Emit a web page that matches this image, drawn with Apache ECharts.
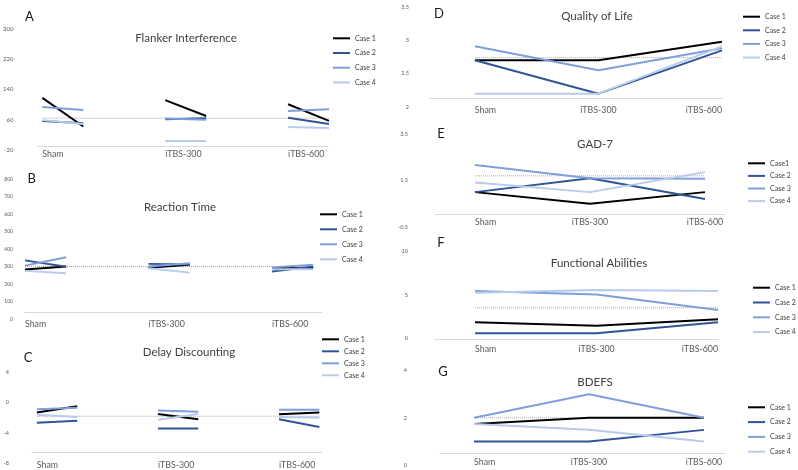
<!DOCTYPE html>
<html><head><meta charset="utf-8">
<script src="https://cdn.jsdelivr.net/npm/echarts@6/dist/echarts.min.js"></script>
<style>html,body{margin:0;padding:0;background:#fff}#c{width:798px;height:470px}</style>
</head><body><div id="c"></div>
<script>
// ---------------- DATA ----------------
const sessions = ['Sham', 'iTBS-300', 'iTBS-600'];
const caseNames = ['Case 1', 'Case 2', 'Case 3', 'Case 4'];
const caseNamesGAD = ['Case1', 'Case 2', 'Case 3', 'Case 4'];

// A – Flanker Interference (pre, post for each session)
const flankerCase1 = [118, 42, 112, 70, 101, 57];
const flankerCase2 = [57, 51, 61, 64, 65, 49];
const flankerCase3 = [94, 86, 63, 60, 83, 88];
const flankerCase4 = [59, 49, 4, 4, 41, 38];
const flankerRef = 64;
const flankerTicks = [-20, 60, 140, 220, 300];

// B – Reaction Time (pre, post for each session)
const rtCase1 = [283, 300, 293, 310, 290, 292];
const rtCase2 = [335, 298, 315, 312, 272, 300];
const rtCase3 = [305, 353, 300, 318, 295, 310];
const rtCase4 = [275, 262, 290, 265, 284, 285];
const rtRef = 300;
const rtTicks = [0, 100, 200, 300, 400, 500, 600, 700, 800];

// C – Delay Discounting (pre, post for each session)
const ddCase1 = [-1.3, -0.5, -1.5, -2.2, -1.55, -1.3];
const ddCase2 = [-2.65, -2.4, -3.4, -3.4, -2.2, -3.2];
const ddCase3 = [-0.9, -0.7, -1.05, -1.2, -0.95, -0.95];
const ddCase4 = [-1.6, -1.9, -2.25, -1.5, -1.9, -2.0];
const ddRef = -1.8;
const ddTicks = [-8, -4, 0, 4];

// D – Quality of Life
const qolCase1 = [2.7, 2.7, 2.98];
const qolCase2 = [2.7, 2.2, 2.85];
const qolCase3 = [2.91, 2.55, 2.88];
const qolCase4 = [2.2, 2.2, 2.91];
const qolRef = 2.74;
const qolTicks = [2, 2.5, 3, 3.5];

// E – GAD-7
const gadCase1 = [1.0, 0.5, 1.0];
const gadCase2 = [1.0, 1.6, 0.7];
const gadCase3 = [2.17, 1.6, 1.57];
const gadCase4 = [1.41, 1.0, 1.86];
const gadRef = 1.7;
const gadTicks = [-0.5, 1.5, 3.5];

// F – Functional Abilities
const faCase1 = [1.85, 1.45, 2.2];
const faCase2 = [0.58, 0.58, 1.85];
const faCase3 = [5.45, 5.07, 3.27];
const faCase4 = [5.26, 5.57, 5.45];
const faRef = 3.53;
const faTicks = [0, 5, 10];

// G – BDEFS
const bdCase1 = [1.74, 2.0, 2.0];
const bdCase2 = [1.0, 1.0, 1.49];
const bdCase3 = [2.0, 3.0, 2.0];
const bdCase4 = [1.74, 1.5, 1.0];
const bdRef = 2.0;
const bdTicks = [0, 2, 4];

// ---------------- LAYOUT / STYLE ----------------
const FONT = 'Lato, "Open Sans", sans-serif';
const caseColors = ['#000000', '#2f5597', '#7f9fdb', '#b7cbea'];
const SEG = 1 / 3;

const panels = [
  {letter:'A', title:'Flanker Interference', names:caseNames, cases:[flankerCase1,flankerCase2,flankerCase3,flankerCase4], ref:flankerRef, ticks:flankerTicks, prepost:true,
   grid:{left:37, top:29, width:291, height:121}, xMin:-0.04, xMax:2.325, xOffset:-4, xMargin:3.5, yMargin:24, yFont:6,
   titlePos:[186,38], letterPos:[29.5,17], legend:{left:333, top:34.3, gap:6.7}, lastAlign:'left', midAlign:'left'},
  {letter:'B', title:'Reaction Time', names:caseNames, cases:[rtCase1,rtCase2,rtCase3,rtCase4], ref:rtRef, ticks:rtTicks, prepost:true,
   grid:{left:25, top:179, width:297, height:140}, xMin:0, xMax:2.405, xOffset:-7, xMargin:7.5, yMargin:12, yFont:5,
   titlePos:[180,207], letterPos:[31.7,179], legend:{left:320, top:210.3, gap:7}, lastAlign:'left', midAlign:'left'},
  {letter:'C', title:'Delay Discounting', names:caseNames, cases:[ddCase1,ddCase2,ddCase3,ddCase4], ref:ddRef, ticks:ddTicks, prepost:true,
   grid:{left:32, top:372, width:290, height:92}, xMin:-0.04, xMax:2.355, xOffset:-11, xMargin:8.5, yMargin:23, yFont:5.5,
   titlePos:[189,352], letterPos:[28,358], legend:{left:322, top:335.3, gap:4}, lastAlign:'left', midAlign:'left'},
  {letter:'D', title:'Quality of Life', names:caseNames, cases:[qolCase1,qolCase2,qolCase3,qolCase4], ref:qolRef, ticks:qolTicks, prepost:false,
   grid:{left:430, top:7, width:292, height:100}, xMin:-0.363, xMax:2, xOffset:-9, xMargin:7.5, yMargin:21, yFont:5.5,
   titlePos:[597,16], letterPos:[439,14], legend:{left:743, top:12.7, gap:5.6}, lastAlign:'right', midAlign:'center'},
  {letter:'E', title:'GAD-7', names:caseNamesGAD, cases:[gadCase1,gadCase2,gadCase3,gadCase4], ref:gadRef, ticks:gadTicks, prepost:false,
   grid:{left:435, top:134, width:290, height:93}, xMin:-0.348, xMax:2.174, xOffset:-13, xMargin:3.5, yMargin:27, yFont:5.5,
   titlePos:[595,144], letterPos:[441,134], legend:{left:748, top:159.3, gap:4.6}, lastAlign:'center', midAlign:'center'},
  {letter:'F', title:'Functional Abilities', names:caseNames, cases:[faCase1,faCase2,faCase3,faCase4], ref:faRef, ticks:faTicks, prepost:false,
   grid:{left:435, top:251.7, width:283, height:86.6}, xMin:-0.33, xMax:2, xOffset:1, xMargin:5, yMargin:27, yFont:5.5,
   titlePos:[599,263], letterPos:[441,242.5], legend:{left:753, top:283.7, gap:6.8}, lastAlign:'right', midAlign:'center'},
  {letter:'G', title:'BDEFS', names:caseNames, cases:[bdCase1,bdCase2,bdCase3,bdCase4], ref:bdRef, ticks:bdTicks, prepost:false,
   grid:{left:440, top:370.7, width:285, height:94.3}, xMin:-0.296, xMax:2.183, xOffset:-12, xMargin:5, yMargin:33, yFont:5.5,
   titlePos:[595,382], letterPos:[443,372], legend:{left:748, top:403.3, gap:6.8}, lastAlign:'center', midAlign:'center'}
];

// ---------------- BUILD OPTION ----------------
const grids = [], xAxes = [], yAxes = [], series = [], legends = [], graphics = [];

panels.forEach((p, gi) => {
  grids.push(Object.assign({containLabel:false}, p.grid));
  xAxes.push({
    type:'value', gridIndex:gi, min:p.xMin, max:p.xMax, offset:p.xOffset,
    axisLine:{show:true, onZero:false, lineStyle:{color:'#d9d9d9', width:1}},
    axisTick:{show:false}, splitLine:{show:false},
    axisLabel:{customValues:[0,1,2], formatter:v => sessions[Math.round(v)] || '',
      margin:p.xMargin, fontSize:8.8, color:'#595959', fontFamily:FONT,
      align:p.midAlign, alignMinLabel:'left', alignMaxLabel:p.lastAlign, showMinLabel:true, showMaxLabel:true, hideOverlap:false}
  });
  const t = p.ticks;
  yAxes.push({
    type:'value', gridIndex:gi, min:t[0], max:t[t.length-1], interval:t[1]-t[0],
    axisLine:{show:false, onZero:false}, axisTick:{show:false}, splitLine:{show:false},
    axisLabel:{fontSize:p.yFont, color:'#595959', fontFamily:FONT, margin:p.yMargin, showMinLabel:true, showMaxLabel:true}
  });
  // reference dotted line
  const xEnd = p.prepost ? 2 + SEG : 2;
  series.push({
    type:'line', xAxisIndex:gi, yAxisIndex:gi, data:[[0, p.ref], [xEnd, p.ref]],
    symbol:'none', silent:true, z:1,
    lineStyle:{color:'#a6a6a6', width:1, type:'dotted'}
  });
  p.cases.forEach((vals, ci) => {
    let data;
    if (p.prepost) {
      data = [];
      sessions.forEach((s, si) => {
        data.push([si, vals[2*si]]);
        data.push([si + SEG, vals[2*si+1]]);
        data.push([si + 0.5, '-']);
      });
    } else {
      data = vals.map((v, i) => [i, v]);
    }
    series.push({
      type:'line', name:p.names[ci], xAxisIndex:gi, yAxisIndex:gi, data:data,
      symbol:'none', connectNulls:false, z:2,
      color:caseColors[ci],
      lineStyle:{color:caseColors[ci], width:2}
    });
  });
  legends.push({
    data:p.names, left:p.legend.left, top:p.legend.top, orient:'vertical',
    icon:'rect', itemWidth:17, itemHeight:2, itemGap:p.legend.gap, padding:0,
    selectedMode:false,
    textStyle:{fontSize:7, color:'#404040', fontFamily:FONT, lineHeight:8}
  });
  graphics.push({type:'text', x:p.titlePos[0], y:p.titlePos[1],
    style:{text:p.title, fontSize:11.5, fontFamily:FONT, fill:'#404040', align:'center', verticalAlign:'middle'}});
  graphics.push({type:'text', x:p.letterPos[0], y:p.letterPos[1],
    style:{text:p.letter, fontSize:13, fontFamily:FONT, fill:'#1a1a1a', align:'center', verticalAlign:'middle'}});
});

const chart = echarts.init(document.getElementById('c'), null, {renderer:'canvas'});
chart.setOption({
  animation:false,
  backgroundColor:'#ffffff',
  grid:grids, xAxis:xAxes, yAxis:yAxes, series:series, legend:legends, graphic:graphics
});
</script>
</body></html>
